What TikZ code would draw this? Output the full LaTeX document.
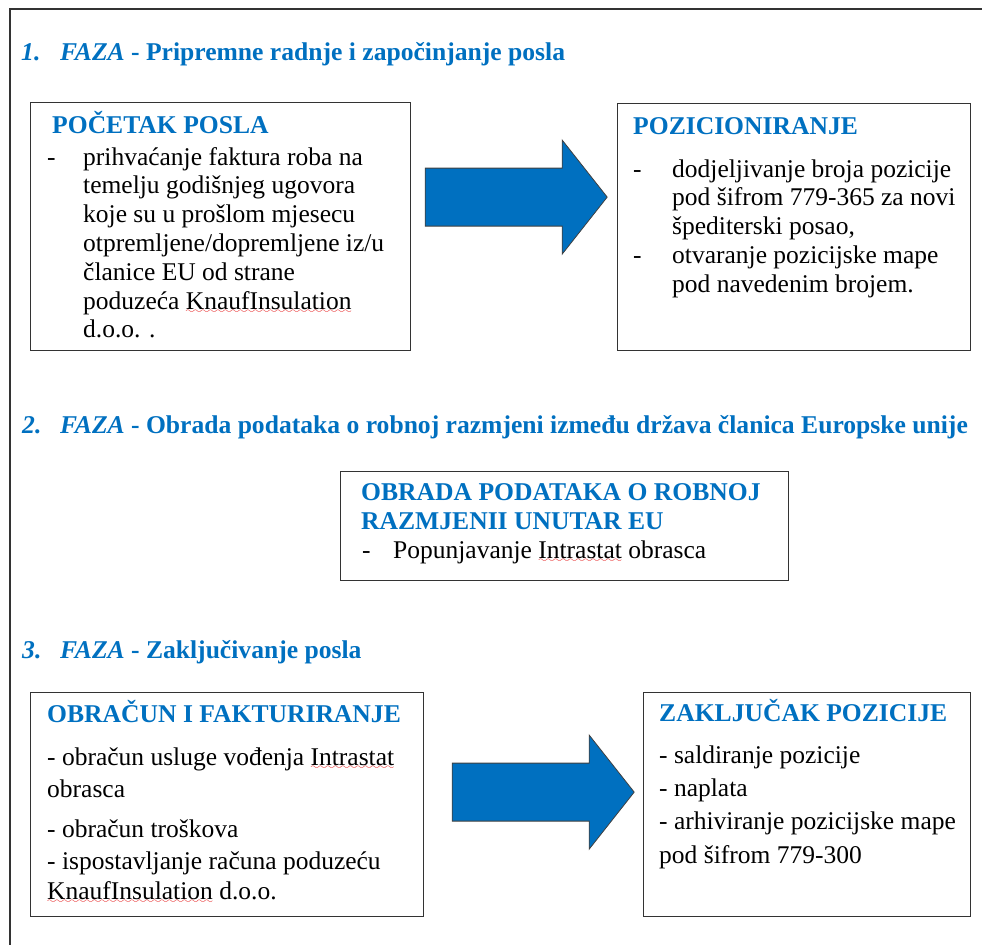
\documentclass[tikz,border=0pt]{standalone}
\usepackage{fontspec}
\setmainfont{LiberationSerif}[
  Extension=.ttf,
  UprightFont=*-Regular,
  BoldFont=*-Bold,
  ItalicFont=*-Italic,
  BoldItalicFont=*-BoldItalic]
\usetikzlibrary{calc}
\definecolor{fazablue}{HTML}{0070C0}
\definecolor{spellred}{HTML}{E41B1B}
\font\wavefont=lasy6 at 9pt
% red spell-check wave under a word
\newsavebox\spellbox
\newcommand{\spell}[1]{\sbox\spellbox{#1}%
  \rlap{\lower4.5pt\hbox to \wd\spellbox{\color{spellred}\cleaders\hbox{\wavefont\char58}\hfill}}%
  \usebox\spellbox}
\newcommand{\dashto}[1]{\makebox[#1][l]{-}}

\tikzset{
  pics/blockarrow/.style={code={
    \draw[arrowbody] (0,-29) -- (137,-29) -- (137,-57) -- (182,0)
                     -- (137,57) -- (137,29) -- (0,29) -- cycle;}}
}

\begin{document}
\begin{tikzpicture}[
  x=1pt, y=-1pt,
  box/.style={draw=black!80, line width=1.2pt, anchor=north west, inner sep=0pt},
  txt/.style={anchor=base west, inner sep=0pt, font=\fontsize{25.5}{28.8}\selectfont},
  head/.style={txt, text=fazablue, font=\fontsize{25.6}{28.8}\selectfont\bfseries},
  arrowbody/.style={fill=fazablue, draw=black!75, line width=0.8pt},
  frame/.style={draw=black!80, line width=1.6pt}
]
\useasboundingbox (0,0) rectangle (982,945);
\draw[frame] (982,9) -- (10,9) -- (10,945);

% phase titles
\node[head] (faza1) at (21,60) {\makebox[39pt][l]{\itshape 1.}\textit{FAZA} - Pripremne radnje i započinjanje posla};
\node[head] (faza2) at (22,433) {\makebox[38pt][l]{\itshape 2.}\textit{FAZA} - Obrada podataka o robnoj razmjeni između država članica Europske unije};
\node[head] (faza3) at (22,658) {\makebox[38pt][l]{\itshape 3.}\textit{FAZA} - Zaključivanje posla};

% phase 1
\node[box, minimum width=380pt, minimum height=248pt] (pocetak) at (30,102) {};
\node[head] (pocetakT) at (52,133) {POČETAK POSLA};
\node[txt] (pocetakL) at (47,165) {\begin{tabular}[t]{@{}l@{}}
  \dashto{36pt}prihvaćanje faktura roba na\\
  \hspace*{36pt}temelju godišnjeg ugovora\\
  \hspace*{36pt}koje su u prošlom mjesecu\\
  \hspace*{36pt}otpremljene/dopremljene iz/u\\
  \hspace*{36pt}članice EU od strane\\
  \hspace*{36pt}poduzeća \spell{KnaufInsulation}\\
  \hspace*{36pt}d.o.o. .
\end{tabular}};

\node[box, minimum width=353pt, minimum height=247pt] (pozic) at (617,103) {};
\node[head] (pozicT) at (633,134) {POZICIONIRANJE};
\node[txt] (pozicL) at (633,177) {\begin{tabular}[t]{@{}l@{}}
  \dashto{39pt}dodjeljivanje broja pozicije\\
  \hspace*{39pt}pod šifrom 779-365 za novi\\
  \hspace*{39pt}špediterski posao,\\
  \dashto{39pt}otvaranje pozicijske mape\\
  \hspace*{39pt}pod navedenim brojem.
\end{tabular}};

\pic (strelica1) at ($(pocetak.east)+(14,-29.5)$) {blockarrow};

% phase 2
\node[box, minimum width=448pt, minimum height=109pt] (obrada) at (340,471) {};
\node[head] (obradaT) at (361,500) {\begin{tabular}[t]{@{}l@{}}
  OBRADA PODATAKA O ROBNOJ\\[1pt]
  RAZMJENII UNUTAR EU
\end{tabular}};
\node[txt] (obradaL) at (362,558) {\dashto{31pt}Popunjavanje \spell{Intrastat} obrasca};

% phase 3
\node[box, minimum width=393pt, minimum height=224pt] (obracun) at (30,692) {};
\node[head] (obracunT) at (47,722) {OBRAČUN I FAKTURIRANJE};
\node[txt] (obracunL) at (47,765) {\begin{tabular}[t]{@{}l@{}}
  - obračun usluge vođenja \spell{Intrastat}\\[4pt]
  obrasca\\[11pt]
  - obračun troškova\\[3pt]
  - ispostavljanje računa poduzeću\\[1pt]
  \spell{KnaufInsulation} d.o.o.
\end{tabular}};

\node[box, minimum width=327pt, minimum height=224pt] (zakljucak) at (643,692) {};
\node[head] (zakljucakT) at (659,721) {ZAKLJUČAK POZICIJE};
\node[txt] (zakljucakL) at (659,763) {\begin{tabular}[t]{@{}l@{}}
  - saldiranje pozicije\\[5pt]
  - naplata\\[4pt]
  - arhiviranje pozicijske mape\\[5pt]
  pod šifrom 779-300
\end{tabular}};

\pic (strelica2) at ($(obracun.east)+(28,-12.5)$) {blockarrow};
\end{tikzpicture}
\end{document}
